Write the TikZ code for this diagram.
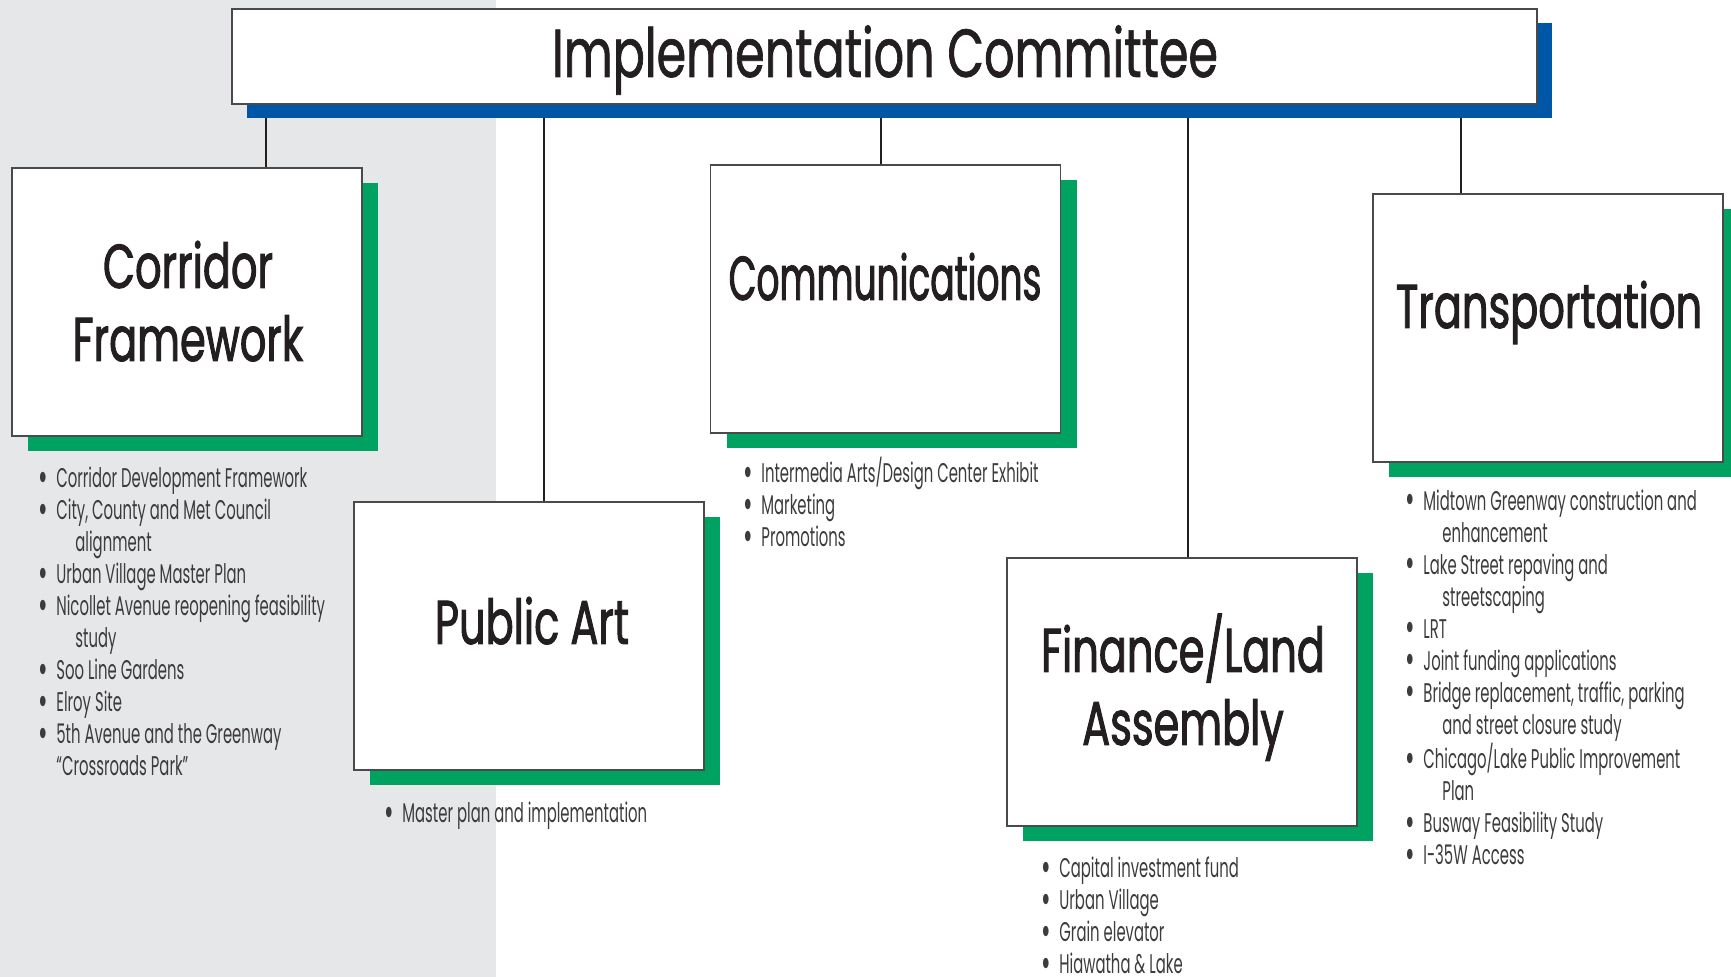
\documentclass[tikz,border=0pt]{standalone}
\usepackage{fontspec}
\newfontfamily\titlefont{Poppins}[FakeStretch=0.70,FakeBold=1]
\newfontfamily\headfont{Poppins}[FakeStretch=0.67,FakeBold=1.5]
\newfontfamily\headnarrow{Poppins}[FakeStretch=0.58,FakeBold=1.5]
\newfontfamily\listfont{Poppins}[FakeStretch=0.55]
\usetikzlibrary{shadows}
\definecolor{bggray}{HTML}{E6E7E8}
\definecolor{barblue}{HTML}{0056A6}
\definecolor{boxgreen}{HTML}{00A262}
\definecolor{ink}{HTML}{231F20}
\definecolor{listgray}{HTML}{3D3B3C}
\definecolor{edgegray}{HTML}{4A4A4A}
\newcommand\bitem[1]{\makebox[9pt][l]{\smash{\fontsize{21}{16}\selectfont\raisebox{-1.6pt}{\textbullet}}}#1}
\newcommand\bcont[1]{\hspace*{18.5pt}#1}
\newcommand\bhang[1]{\hspace*{9pt}#1}
\tikzset{
  topbox/.style={draw=edgegray, line width=0.6pt, fill=white, inner sep=0pt,
    minimum width=652.5pt, minimum height=47.5pt,
    drop shadow={shadow xshift=7.5pt, shadow yshift=-7pt, fill=barblue, opacity=1}},
  panel/.style={draw=edgegray, line width=0.6pt, fill=white, inner sep=0pt,
    minimum width=175pt, minimum height=134pt,
    drop shadow={shadow xshift=8pt, shadow yshift=-7.5pt, fill=boxgreen, opacity=1}},
  title/.style={anchor=base, inner sep=0pt, text=ink,
    font=\titlefont\fontsize{34}{40}\selectfont},
  heading/.style={anchor=base, inner sep=0pt, align=center, text=ink,
    font=\headfont\fontsize{31}{36.5}\selectfont},
  items/.style={anchor=base west, inner sep=0pt, align=left, text=listgray,
    font=\listfont\fontsize{13.5}{16}\selectfont},
  stem/.style={draw=ink, line width=1.3pt}
}
\begin{document}
\begin{tikzpicture}[x=0.5pt,y=-0.5pt]
  \useasboundingbox (0,0) rectangle (1731,977);
  \fill[bggray] (0,0) rectangle (496,977);
  % committee
  \node[topbox] (main) at (884.5,56.5) {};
  \node[title] (maintitle) at (885,77) {Implementation Committee};
  % subcommittees
  \node[panel] (corr) at (187,302) {};
  \node[panel] (art) at (529,636) {};
  \node[panel] (comm) at (885.5,299) {};
  \node[panel] (fin) at (1182,692) {};
  \node[panel] (trans) at (1548,328) {};
  % (base of a two-line heading = its last line)
  \node[heading] (corrtitle) at (188,361) {Corridor\\Framework};
  \node[heading] (arttitle) at (532,644) {Public Art};
  \node[heading, font=\headnarrow\fontsize{31}{36.5}\selectfont] (commtitle) at (885,300) {Communications};
  \node[heading] (fintitle) at (1183,745) {Finance/Land\\Assembly};
  \node[heading] (transtitle) at (1549,328) {Transportation};
  % stems from the blue bar
  \coordinate (s1) at (266,118);
  \coordinate (s2) at (544,118);
  \coordinate (s3) at (881,118);
  \coordinate (s4) at (1188,118);
  \coordinate (s5) at (1461,118);
  \draw[stem] (s1) -- (s1 |- corr.north);
  \draw[stem] (s2) -- (s2 |- art.north);
  \draw[stem] (s3) -- (s3 |- comm.north);
  \draw[stem] (s4) -- (s4 |- fin.north);
  \draw[stem] (s5) -- (s5 |- trans.north);
  % task lists, placed by the baseline of their last line
  \node[items] (corrlist) at (38,776) {\bitem{Corridor Development Framework}\\
    \bitem{City, County and Met Council}\\ \bcont{alignment}\\
    \bitem{Urban Village Master Plan}\\
    \bitem{Nicollet Avenue reopening feasibility}\\ \bcont{study}\\
    \bitem{Soo Line Gardens}\\ \bitem{Elroy Site}\\
    \bitem{5th Avenue and the Greenway}\\ \bhang{“Crossroads Park”}};
  \node[items] (artlist) at (384,823) {\bitem{Master plan and implementation}};
  \node[items] (commlist) at (743,547) {\bitem{Intermedia Arts/Design Center Exhibit}\\
    \bitem{Marketing}\\ \bitem{Promotions}};
  \node[items] (finlist) at (1041,974) {\bitem{Capital investment fund}\\
    \bitem{Urban Village}\\ \bitem{Grain elevator}\\ \bitem{Hiawatha \& Lake}};
  \node[items] (translist) at (1405,865) {\bitem{Midtown Greenway construction and}\\
    \bcont{enhancement}\\ \bitem{Lake Street repaving and}\\ \bcont{streetscaping}\\
    \bitem{LRT}\\ \bitem{Joint funding applications}\\
    \bitem{Bridge replacement, traffic, parking}\\ \bcont{and street closure study}\\
    \bitem{Chicago/Lake Public Improvement}\\ \bcont{Plan}\\
    \bitem{Busway Feasibility Study}\\ \bitem{I-35W Access}};
\end{tikzpicture}
\end{document}
